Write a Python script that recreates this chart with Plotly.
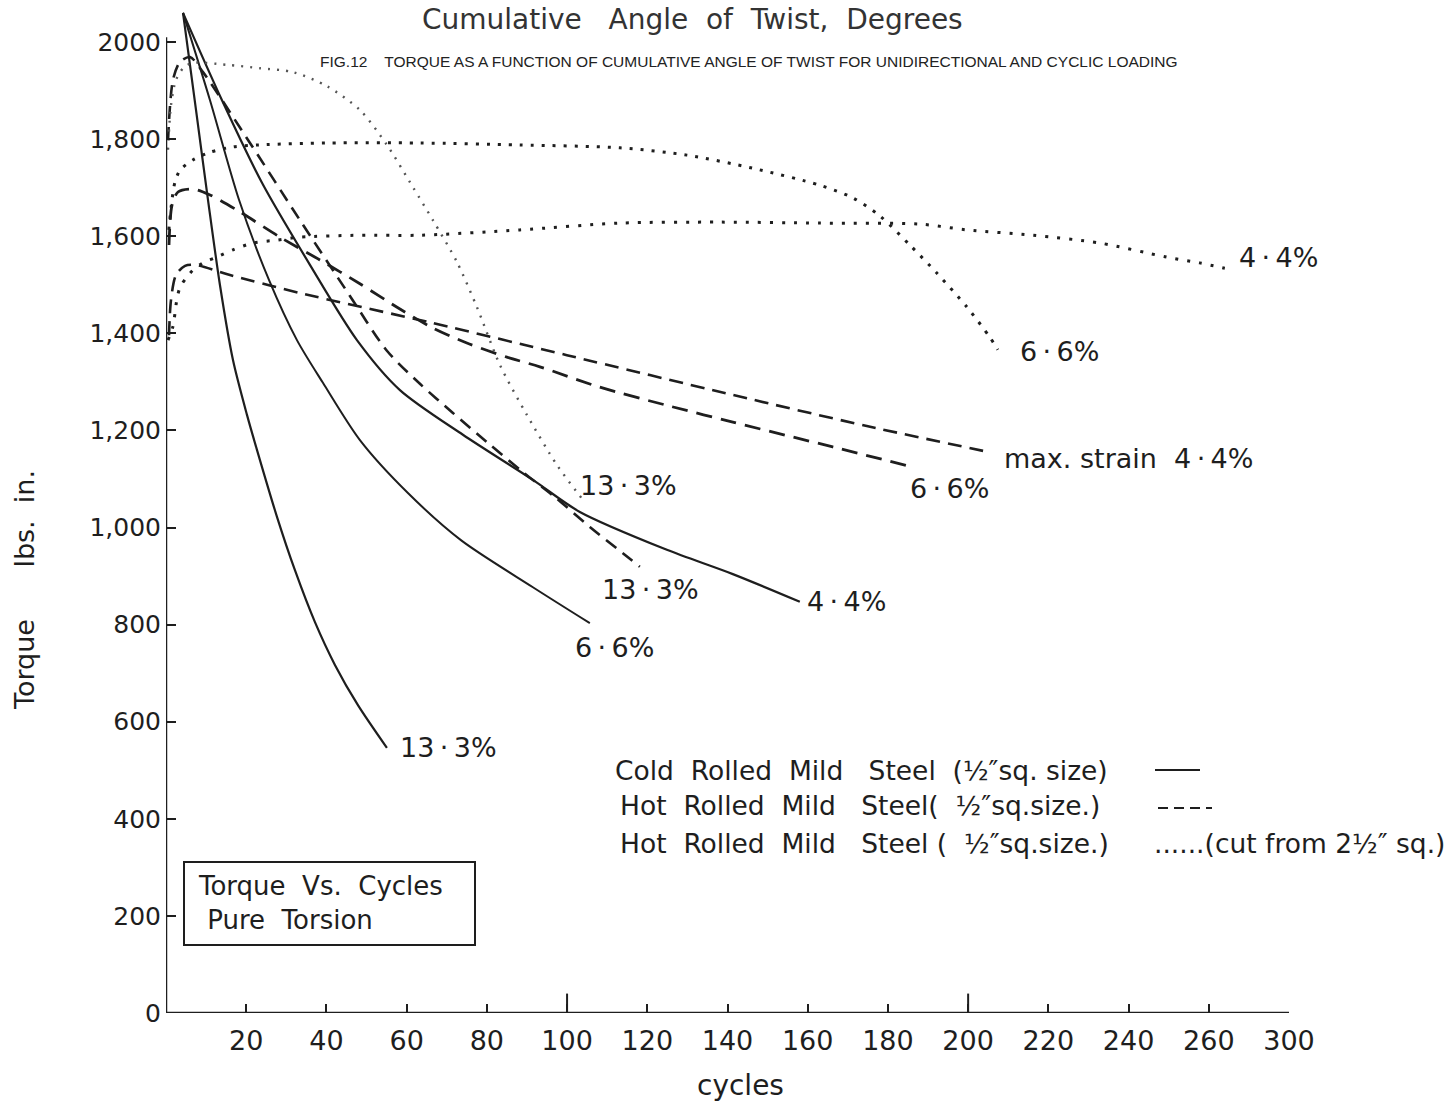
import plotly.graph_objects as go

# ---- Cold rolled mild steel (1/2" sq.), solid lines: cycles vs torque (lbs. in.)
cr133_x = [4.24, 7.48, 10.47, 13.46, 16.70, 20.19, 22.68, 27.67, 32.15, 37.14, 42.12, 47.86, 55.08]
cr133_y = [2060, 1860, 1675, 1499, 1345, 1232, 1160, 1022, 912, 805, 717, 634, 546]

cr66_x = [4.24, 10.97, 18.20, 25.67, 32.65, 39.13, 48.35, 60.32, 73.53, 91.48, 105.68]
cr66_y = [2060, 1880, 1675, 1510, 1386, 1298, 1180, 1071, 974, 877, 803]

cr44_x = [4.24, 13.96, 23.93, 35.89, 47.61, 58.33, 74.03, 91.48, 103.19, 124.88, 141.33, 158.03]
cr44_y = [2060, 1880, 1710, 1541, 1386, 1283, 1191, 1098, 1032, 954, 904, 847]

# ---- Hot rolled mild steel (1/2" sq.), dashed lines
hr133_x = [0.5, 1.74, 3.49, 5.98, 9.22, 20.94, 33.40, 45.86, 55.08, 63.31, 71.54,
           80.01, 88.98, 97.21, 105.68, 113.91, 118.14]
hr133_y = [1798, 1922, 1959, 1969, 1938, 1792, 1633, 1477, 1364, 1296, 1236,
           1176, 1114, 1061, 1001, 947, 919]

hr66_x = [0.75, 1.50, 2.99, 6.73, 10.97, 18.44, 28.42, 38.38, 48.35, 58.33, 66.55,
          75.02, 85.0, 93.22, 108.18, 125.62, 141.33, 166.25, 185.94]
hr66_y = [1582, 1664, 1691, 1697, 1685, 1650, 1598, 1551, 1502, 1450, 1411,
          1380, 1351, 1331, 1289, 1250, 1217, 1166, 1125]

hr44_x = [0.75, 1.25, 2.49, 4.74, 7.23, 15.95, 33.40, 66.55, 99.95, 141.33, 174.73, 205.38]
hr44_y = [1396, 1469, 1520, 1539, 1541, 1520, 1483, 1421, 1355, 1273, 1209, 1155]

# ---- Hot rolled mild steel (1/2" sq. cut from 2 1/2" sq.), dotted lines
hc133_x = [0.5, 1.25, 2.49, 4.49, 6.73, 15.2, 23.43, 31.65, 40.13, 48.35, 55.08,
           61.57, 66.55, 72.53, 77.52, 83.25, 89.98, 97.46, 103.94]
hc133_y = [1778, 1870, 1922, 1948, 1957, 1953, 1946, 1938, 1909, 1860, 1788,
           1701, 1633, 1547, 1454, 1335, 1232, 1129, 1057]

hc66_x = [0.7, 1.5, 2.2, 3.5, 6.7, 11.0, 16.7, 23.4, 40.1, 63.3, 88.2, 113.2, 129.9,
          146.3, 163.0, 171.24, 177.97, 185.44, 192.2, 199.7, 205.4, 207.4]
hc66_y = [1613, 1675, 1710, 1736, 1757, 1773, 1784, 1788, 1792, 1792, 1788, 1782, 1767,
          1740, 1705, 1679, 1642, 1582, 1524, 1454, 1392, 1366]

hc44_x = [0.5, 1.7, 2.7, 3.5, 5.2, 6.7, 9.2, 12.7, 16.7, 21.7, 27.7, 33.4, 48.4, 63.3,
          88.2, 113.2, 138.1, 163.0, 187.9, 199.7, 216.1, 232.8, 249.5, 257.7, 264.0]
hc44_y = [1386, 1413, 1469, 1495, 1516, 1530, 1545, 1557, 1572, 1586, 1592, 1598, 1602,
          1602, 1613, 1627, 1629, 1627, 1625, 1613, 1602, 1586, 1557, 1545, 1534]

# axis ticks (the drawn scale skips 280 and labels the last mark 300)
x_tickvals = [20, 40, 60, 80, 100, 120, 140, 160, 180, 200, 220, 240, 260, 280]
x_ticktext = ["20", "40", "60", "80", "100", "120", "140", "160", "180", "200",
              "220", "240", "260", "300"]
y_tickvals = [0, 200, 400, 600, 800, 1000, 1200, 1400, 1600, 1800, 2000]
y_ticktext = ["0", "200", "400", "600", "800", "1,000", "1,200", "1,400", "1,600",
              "1,800", "2000"]

INK = "#1e1e1e"
FONT = "DejaVu Sans"
NS = "\u202f"  # narrow space around the decimal point

series = [
    (cr133_x, cr133_y, "solid", 2.2, INK, f"13{NS}·{NS}3%", 11, 0),
    (cr66_x, cr66_y, "solid", 2.0, INK, f"6{NS}·{NS}6%", -17, -24),
    (cr44_x, cr44_y, "solid", 2.2, INK, f"4{NS}·{NS}4%", 5, 0),
    (hr133_x, hr133_y, "13px,8px", 2.6, INK, f"13{NS}·{NS}3%", -40, -23),
    (hr66_x, hr66_y, "16px,9px", 2.8, INK, f"6{NS}·{NS}6%", -4, -22),
    (hr44_x, hr44_y, "14px,8px", 2.6, INK, f"max. strain  4{NS}·{NS}4%", 12, -6),
    (hc133_x, hc133_y, "2px,7px", 2.4, "#555555", f"13{NS}·{NS}3%", -5, 14),
    (hc66_x, hc66_y, "3px,8px", 3.0, INK, f"6{NS}·{NS}6%", 20, -2),
    (hc44_x, hc44_y, "3px,9px", 3.0, INK, f"4{NS}·{NS}4%", 12, 11),
]

fig = go.Figure()
annotations = []
for xs, ys, dash, w, col, label, dx, dy in series:
    fig.add_trace(go.Scatter(
        x=xs, y=ys, mode="lines",
        line=dict(color=col, width=w, dash=dash, shape="spline", smoothing=0.8),
        hoverinfo="skip", showlegend=False,
    ))
    annotations.append(dict(
        x=xs[-1], y=ys[-1], xref="x", yref="y", text=label, showarrow=False,
        xanchor="left", yanchor="middle", xshift=dx, yshift=dy,
        font=dict(family=FONT, size=27, color=INK),
    ))


def px_x(px):
    return (px - 166) / 1123


def px_y(py):
    return 1 - py / 1013


# legend text block
legend_lines = [
    ("Cold  Rolled  Mild   Steel  (½″sq. size)", 613, 770),
    ("Hot  Rolled  Mild   Steel(  ½″sq.size.)", 618, 805),
    ("Hot  Rolled  Mild   Steel (  ½″sq.size.)", 618, 843),
    ("......(cut from 2½″ sq.)", 1152, 843),
]
for txt, px, py in legend_lines:
    annotations.append(dict(
        x=px_x(px), y=px_y(py), xref="paper", yref="paper",
        text=txt, showarrow=False, xanchor="left", yanchor="middle",
        font=dict(family=FONT, size=26.5, color=INK),
    ))

# boxed caption
annotations.append(dict(
    x=px_x(196), y=px_y(903), xref="paper", yref="paper",
    text="Torque  Vs.  Cycles<br> Pure  Torsion", showarrow=False, align="left",
    xanchor="left", yanchor="middle",
    font=dict(family=FONT, size=26, color=INK),
))

# titles
annotations.append(dict(
    x=px_x(692), y=px_y(19), xref="paper", yref="paper",
    text="Cumulative   Angle  of  Twist,  Degrees", showarrow=False,
    xanchor="center", yanchor="middle",
    font=dict(family=FONT, size=28, color="#333333"),
))
annotations.append(dict(
    x=px_x(318), y=px_y(62), xref="paper", yref="paper",
    text="FIG.12    TORQUE AS A FUNCTION OF CUMULATIVE ANGLE OF TWIST FOR UNIDIRECTIONAL AND CYCLIC LOADING",
    showarrow=False, xanchor="left", yanchor="middle",
    font=dict(family="Liberation Sans", size=15.5, color="#222222"),
))
annotations.append(dict(
    x=px_x(740), y=px_y(1085), xref="paper", yref="paper",
    text="cycles", showarrow=False, xanchor="center", yanchor="middle",
    font=dict(family=FONT, size=28, color=INK),
))
annotations.append(dict(
    x=px_x(24), y=px_y(590), xref="paper", yref="paper",
    text="Torque      lbs.  in.", showarrow=False, textangle=-90,
    xanchor="center", yanchor="middle",
    font=dict(family=FONT, size=27, color=INK),
))

shapes = [
    # axis lines
    dict(type="line", xref="x", yref="y", x0=0, y0=0, x1=0, y1=2010,
         line=dict(color=INK, width=2.5)),
    dict(type="line", xref="x", yref="y", x0=0, y0=0, x1=280, y1=0,
         line=dict(color=INK, width=2.5)),
    # longer marks at 100 and 200 cycles
    dict(type="line", xref="x", yref="y", x0=100, y0=0, x1=100, y1=40,
         line=dict(color=INK, width=2)),
    dict(type="line", xref="x", yref="y", x0=200, y0=0, x1=200, y1=40,
         line=dict(color=INK, width=2)),
    # caption frame
    dict(type="rect", xref="paper", yref="paper",
         x0=px_x(184), x1=px_x(475), y0=px_y(945), y1=px_y(862),
         line=dict(color=INK, width=2)),
    # legend line samples
    dict(type="line", xref="paper", yref="paper",
         x0=px_x(1155), x1=px_x(1200), y0=px_y(770), y1=px_y(770),
         line=dict(color=INK, width=2)),
    dict(type="line", xref="paper", yref="paper",
         x0=px_x(1158), x1=px_x(1212), y0=px_y(808), y1=px_y(808),
         line=dict(color=INK, width=2, dash="10px,6px")),
]

fig.update_layout(
    width=1453, height=1101,
    margin=dict(l=166, r=164, t=0, b=88),
    paper_bgcolor="white", plot_bgcolor="white",
    showlegend=False,
    annotations=annotations,
    shapes=shapes,
    xaxis=dict(
        range=[0, 280], showgrid=False, zeroline=False, showline=False,
        tickmode="array", tickvals=x_tickvals, ticktext=x_ticktext,
        ticks="inside", ticklen=9, tickwidth=2, tickcolor=INK,
        ticklabelstandoff=9,
        tickfont=dict(family=FONT, size=27, color=INK),
    ),
    yaxis=dict(
        range=[0, 1013 / 0.4855], showgrid=False, zeroline=False, showline=False,
        tickmode="array", tickvals=y_tickvals, ticktext=y_ticktext,
        ticks="inside", ticklen=10, tickwidth=2, tickcolor=INK,
        ticklabelstandoff=4,
        tickfont=dict(family=FONT, size=25, color=INK),
    ),
)

fig.write_html("out.html")
